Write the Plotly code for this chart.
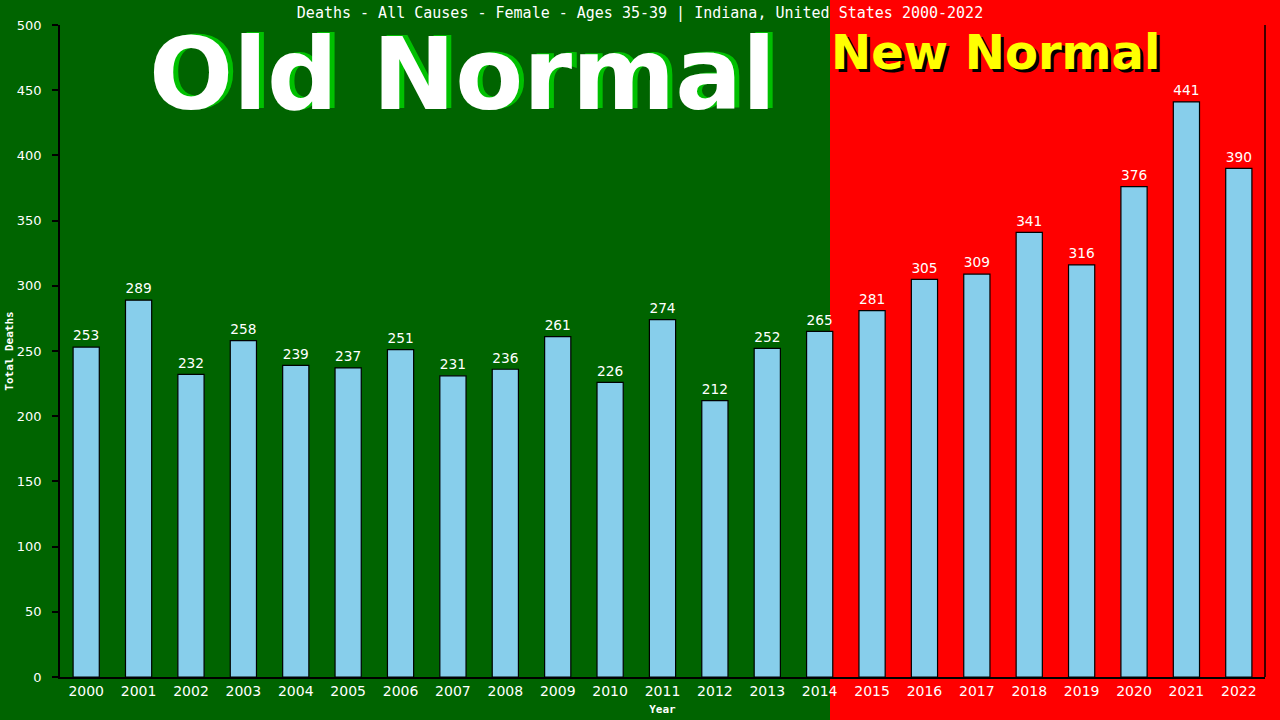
import plotly.graph_objects as go

years = [str(y) for y in range(2000, 2023)]
deaths = [253, 289, 232, 258, 239, 237, 251, 231, 236, 261, 226, 274,
          212, 252, 265, 281, 305, 309, 341, 316, 376, 441, 390]

title_text = "Deaths - All Causes - Female - Ages 35-39 | Indiana, United States 2000-2022"

GREEN = "#006400"
RED = "#ff0000"

# plot area in pixels: left 60, right 1265, top 25, bottom 677
PW, PH = 1205, 652


def px(x):
    return (x - 60) / PW


def py(y):
    return 1 - (y - 25) / PH


fig = go.Figure()

fig.add_trace(go.Bar(
    x=years,
    y=deaths,
    width=0.5,
    marker=dict(color="#87ceeb", line=dict(color="black", width=1.2)),
    text=deaths,
    textposition="outside",
    textfont=dict(color="white", size=15, family="DejaVu Sans"),
    cliponaxis=False,
    hoverinfo="x+y",
))

# background split: old normal (green) / new normal (red)
fig.add_shape(type="rect", xref="paper", yref="paper",
              x0=px(830), x1=1.05, y0=-0.1, y1=1.06,
              fillcolor=RED, line_width=0, layer="below")
# right border line
fig.add_shape(type="line", xref="paper", yref="paper",
              x0=1, x1=1, y0=0, y1=1,
              line=dict(color="black", width=1.5))

# big labels with drop shadows
big = dict(xref="paper", yref="paper", showarrow=False,
           xanchor="center", yanchor="middle")
fig.add_annotation(text="<b>Old Normal</b>", x=px(462), y=py(74),
                   xshift=5, yshift=1,
                   font=dict(family="DejaVu Sans", size=99, color="#00c000"), **big)
fig.add_annotation(text="<b>Old Normal</b>", x=px(462), y=py(74),
                   font=dict(family="DejaVu Sans", size=99, color="white"), **big)
fig.add_annotation(text="<b>New Normal</b>", x=px(995), y=py(52),
                   xshift=3, yshift=-3,
                   font=dict(family="DejaVu Sans", size=48, color="black"), **big)
fig.add_annotation(text="<b>New Normal</b>", x=px(995), y=py(52),
                   font=dict(family="DejaVu Sans", size=48, color="#ffff00"), **big)

fig.update_layout(
    width=1280, height=720,
    margin=dict(l=60, r=15, t=25, b=43),
    paper_bgcolor=GREEN,
    plot_bgcolor="rgba(0,0,0,0)",
    showlegend=False,
    title=dict(text=title_text, x=0.5, xanchor="center", y=0.982, yanchor="middle",
               font=dict(family="DejaVu Sans Mono", size=15, color="white")),
    bargap=0.5,
)

fig.update_xaxes(
    type="category", automargin=False,
    showline=True, linecolor="black", linewidth=1.5,
    ticks="", showgrid=False,
    tickfont=dict(family="DejaVu Sans", size=14, color="white"),
    title=dict(text="<b>Year</b>", standoff=8,
               font=dict(family="DejaVu Sans Mono", size=11, color="white")),
)
fig.update_yaxes(
    range=[0, 500], dtick=50, automargin=False,
    showline=True, linecolor="black", linewidth=1.5,
    ticks="outside", ticklen=6, tickcolor="black", tickwidth=1.5,
    ticklabelstandoff=8,
    showgrid=False, zeroline=False,
    tickfont=dict(family="DejaVu Sans", size=13, color="white"),
    title=dict(text="<b>Total Deaths</b>", standoff=1,
               font=dict(family="DejaVu Sans Mono", size=11, color="white")),
)

fig.write_html("out.html", config={"displayModeBar": False},
               post_script="document.body.style.margin='0';document.body.style.overflow='hidden';")
